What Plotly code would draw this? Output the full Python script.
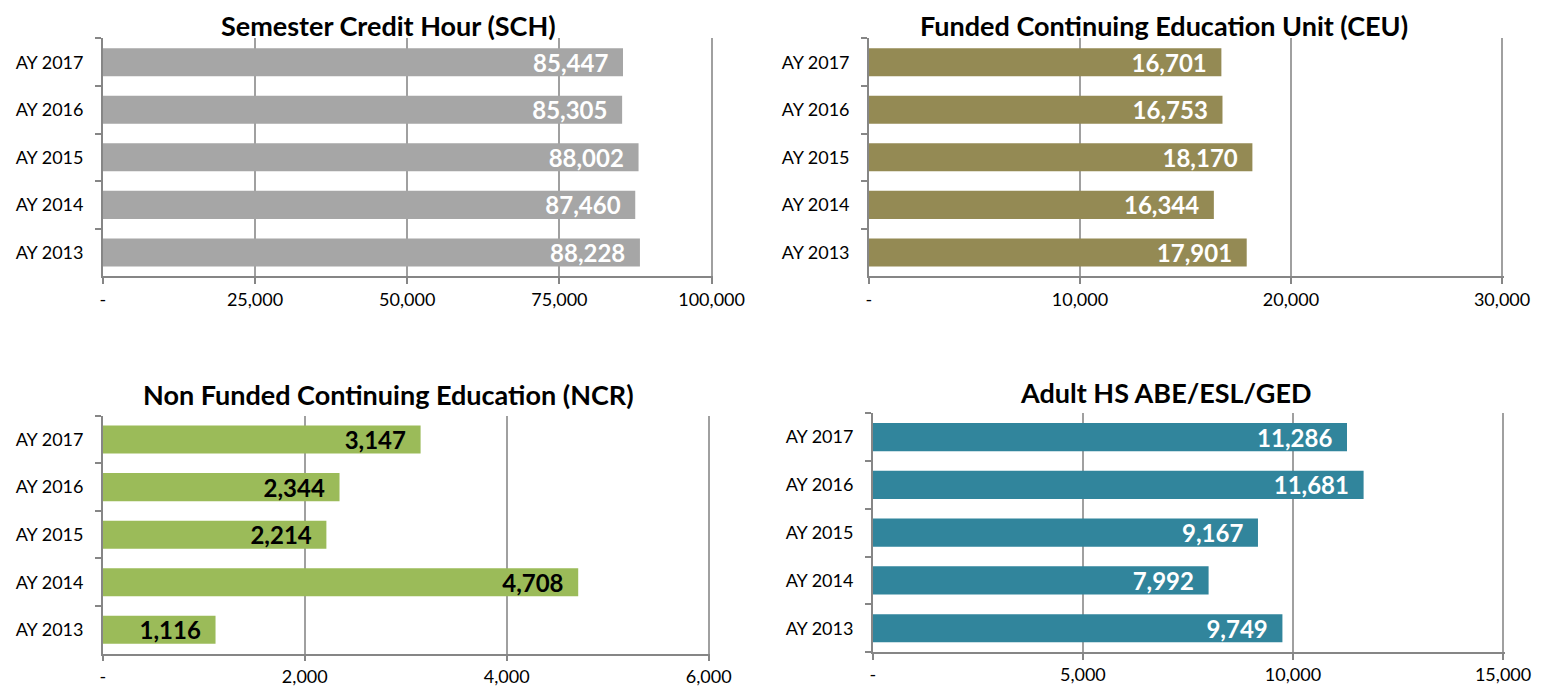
import plotly.graph_objects as go

years = ["AY 2013", "AY 2014", "AY 2015", "AY 2016", "AY 2017"]
sch = [88228, 87460, 88002, 85305, 85447]
ceu = [17901, 16344, 18170, 16753, 16701]
ncr = [1116, 4708, 2214, 2344, 3147]
adult = [9749, 7992, 9167, 11681, 11286]

titles = ["Semester Credit Hour (SCH)", "Funded Continuing Education Unit (CEU)",
          "Non Funded Continuing Education (NCR)", "Adult HS ABE/ESL/GED"]
colors = ["#A6A6A6", "#948A54", "#9BBB59", "#31859C"]
label_colors = ["white", "white", "black", "white"]
tick_vals = [[0, 25000, 50000, 75000, 100000], [0, 10000, 20000, 30000],
             [0, 2000, 4000, 6000], [0, 5000, 10000, 15000]]
tick_text = [["-", "25,000", "50,000", "75,000", "100,000"],
             ["-", "10,000", "20,000", "30,000"],
             ["-", "2,000", "4,000", "6,000"],
             ["-", "5,000", "10,000", "15,000"]]
series = [sch, ceu, ncr, adult]

W, H = 1529, 679
FONT = "Lato"
EXT = 1.6  # extra px past the last tick so its gridline is drawn
# figure pixel boxes: (x_zero, x_max, ytop, ybottom)
boxes = [(94, 717, 30.5, 269), (878, 1526, 30.5, 269),
         (94, 714, 409, 647.5), (882, 1527, 406.5, 646)]
title_pos = [(386, 0, "top"), (1180, 0, "top"), (386, 388, "middle"), (1182, 386, "middle")]

fig = go.Figure()
layout = dict(width=W, height=H, margin=dict(l=0, r=0, t=0, b=0),
              plot_bgcolor="white", paper_bgcolor="white", showlegend=False,
              bargap=0.41, annotations=[])

for i in range(4):
    sfx = "" if i == 0 else str(i + 1)
    x0, x1, yt, yb = boxes[i]
    vmax = tick_vals[i][-1]
    rmax = vmax * (1 + EXT / (x1 - x0))
    fig.add_trace(go.Bar(
        x=series[i], y=years, orientation="h",
        marker=dict(color=colors[i], line=dict(width=0)),
        text=[f"{v:,}\u00a0\u00a0" for v in series[i]],
        textposition="inside", insidetextanchor="end", constraintext="none",
        textfont=dict(family=FONT, size=24, color=label_colors[i], weight="bold"),
        xaxis="x" + sfx, yaxis="y" + sfx, hoverinfo="skip", cliponaxis=False,
    ))
    layout["xaxis" + sfx] = dict(
        domain=[x0 / W, min(1.0, (x1 + EXT) / W)], anchor="y" + sfx,
        range=[0, rmax], tickvals=tick_vals[i], ticktext=tick_text[i],
        showgrid=True, gridcolor="#A0A0A0", gridwidth=1.5,
        showline=True, linecolor="#868686", linewidth=1.5,
        ticks="outside", ticklen=6, tickcolor="#868686", tickwidth=1.5,
        tickfont=dict(family=FONT, size=18, color="black"), zeroline=False,
        fixedrange=True,
    )
    layout["yaxis" + sfx] = dict(
        domain=[1 - yb / H, 1 - yt / H], anchor="x" + sfx,
        showline=True, linecolor="#868686", linewidth=1.5,
        ticks="outside", tickson="boundaries", ticklen=6, tickcolor="#868686",
        tickwidth=1.5, tickfont=dict(family=FONT, size=18, color="black"),
        ticklabelstandoff=14, showgrid=False, fixedrange=True,
    )
    tx, ty, anc = title_pos[i]
    layout["annotations"].append(dict(
        text=f"<b>{titles[i]}</b>", x=tx / W, y=1 - ty / H,
        xref="paper", yref="paper", xanchor="center", yanchor=anc, borderpad=0,
        showarrow=False, font=dict(family=FONT, size=27, color="black"),
    ))

fig.update_layout(**layout)
fig.write_html("out.html")
